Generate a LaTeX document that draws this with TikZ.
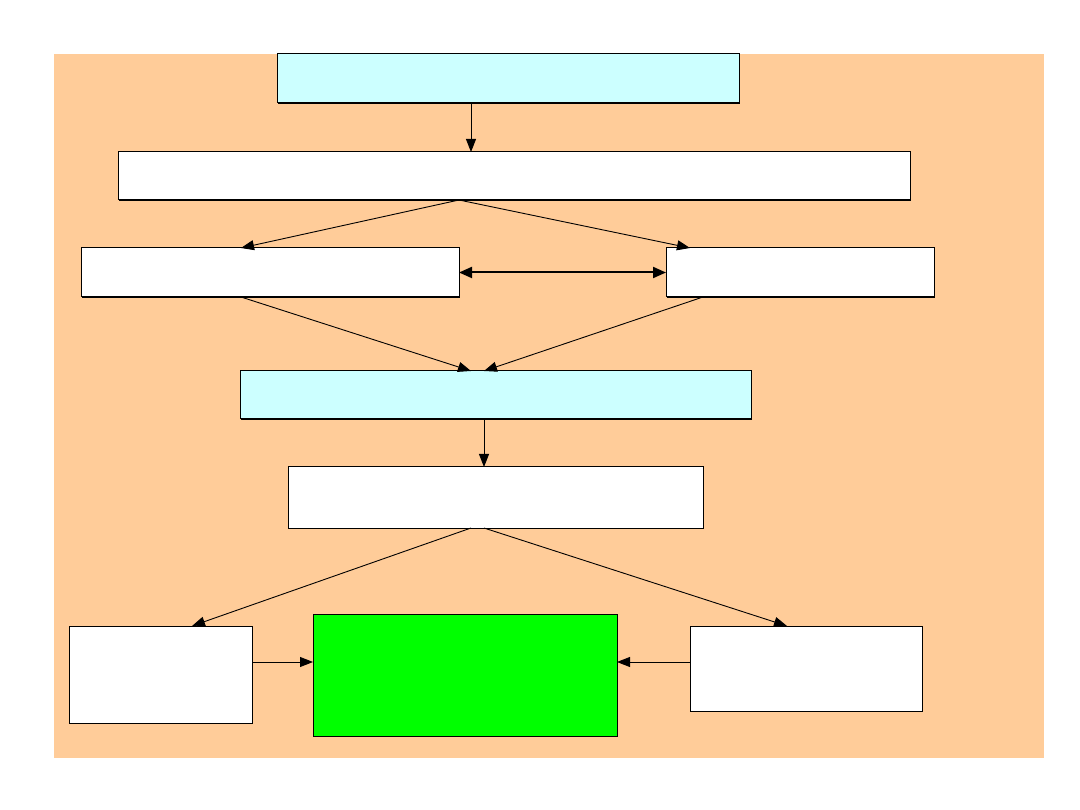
\documentclass[tikz,border=0pt]{standalone}
\usetikzlibrary{arrows.meta,calc,shadows}
\definecolor{bgorange}{HTML}{FFCC99}
\definecolor{lcyan}{HTML}{CCFFFF}
\definecolor{lgreen}{HTML}{00FF00}
\begin{document}
\begin{tikzpicture}[x=1pt,y=-1pt,
 box/.style={draw=black, line width=1pt, rectangle, inner sep=0pt, outer sep=0pt, fill=white,
   drop shadow={shadow xshift=1.2pt,shadow yshift=-1.2pt,fill=black,opacity=1}},
 arr/.style={line width=0.9pt, -{Triangle[length=13pt,width=10pt]}},
 darr/.style={line width=2pt, {Triangle[length=13pt,width=11pt]}-{Triangle[length=13pt,width=11pt]}}]
\useasboundingbox (0,0) rectangle (1080,810);
\fill[bgorange] (54,54) rectangle (1044,758);
\node[box, fill=lcyan, minimum width=462pt, minimum height=49pt] (n1) at (508,78.5) {};
\node[box, minimum width=792pt, minimum height=48pt] (n2) at (514,176) {};
\node[box, minimum width=378pt, minimum height=49pt] (n3) at (270,272.5) {};
\node[box, minimum width=268pt, minimum height=49pt] (n4) at (800,272.5) {};
\node[box, fill=lcyan, minimum width=511pt, minimum height=48pt] (n5) at (495.5,395) {};
\node[box, minimum width=415pt, minimum height=61pt] (n6) at (495.5,497.5) {};
\node[box, minimum width=183pt, minimum height=97pt] (n7) at (160.5,674.5) {};
\node[box, fill=lgreen, minimum width=304pt, minimum height=122pt] (n8) at (465,675) {};
\node[box, minimum width=232pt, minimum height=85pt] (n9) at (806,668.5) {};
\coordinate (mid) at ($(n8.north west)+(0,48)$);
% connectors
\draw[arr] ($(n1.south west)+(194,0)$) -- ($(n2.north west)+(353,0)$);
\draw[arr] (n3.east |- n2.south) -- ($(n3.north west)+(160,0)$);
\draw[arr] (n3.east |- n2.south) -- ($(n4.north west)+(24,0)$);
\draw[darr] (n3.east) -- (n4.west);
\draw[arr] ($(n3.south west)+(160,0)$) -- ($(n5.north west)+(231,0)$);
\draw[arr] ($(n4.south west)+(37,0)$) -- ($(n5.north west)+(244,0)$);
\draw[arr] ($(n5.south west)+(244,0)$) -- ($(n6.north west)+(196,0)$);
\draw[arr] ($(n6.south west)+(183,0)$) -- ($(n7.north west)+(123,0)$);
\draw[arr] ($(n6.south west)+(196,0)$) -- ($(n9.north west)+(97,0)$);
\draw[arr] (n7.east |- mid) -- (n8.west |- mid);
\draw[arr] (n9.west |- mid) -- (n8.east |- mid);
\end{tikzpicture}
\end{document}
